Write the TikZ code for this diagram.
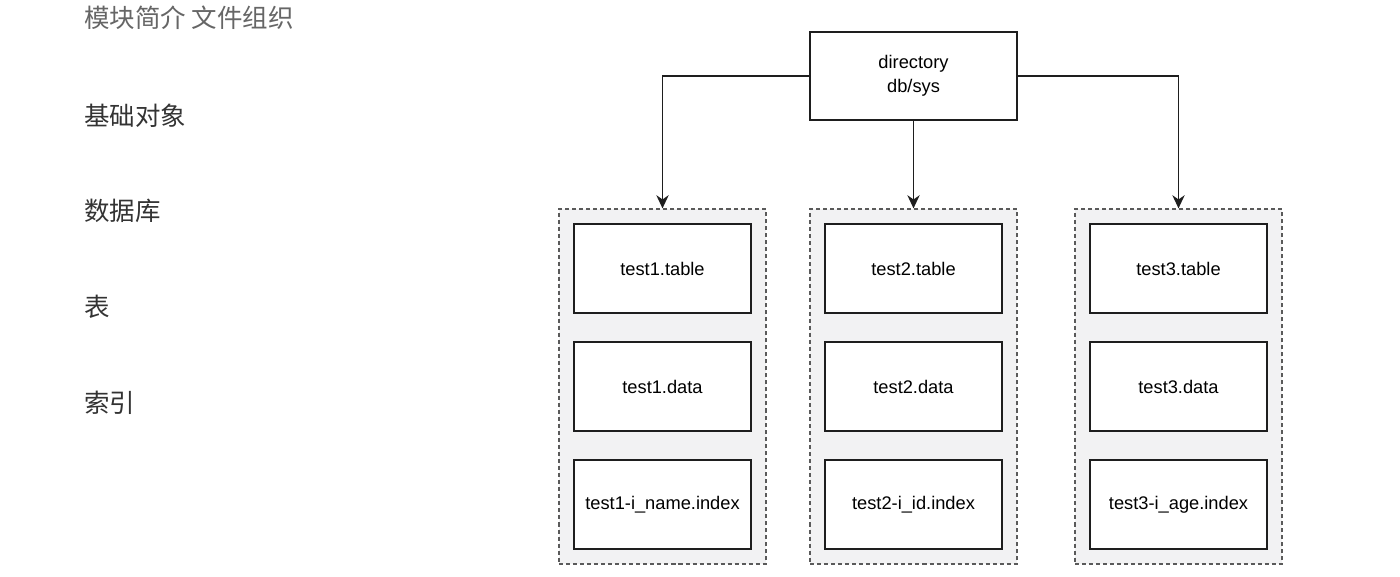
\documentclass[tikz,border=0pt]{standalone}
\usepackage{fontspec}
\setmainfont{Liberation Sans}
\newfontfamily\cjk{Noto Sans CJK SC}
\usetikzlibrary{arrows.meta}

\begin{document}
\begin{tikzpicture}[x=0.02cm, y=-0.02cm,
    every node/.style={font=\fontsize{10.4}{12.5}\selectfont},
    filebox/.style={draw=boxline, fill=white, line width=1pt,
        minimum width=3.54cm, minimum height=1.78cm, inner sep=0pt},
    groupbox/.style={draw=dashline, fill=groupfill, line width=0.75pt,
        dash pattern=on 2.3pt off 1.7pt,
        minimum width=4.14cm, minimum height=7.1cm, inner sep=0pt},
    menuitem/.style={anchor=west, text=menutext, inner sep=0pt,
        font=\cjk\fontsize{14.5}{17}\selectfont},
    link/.style={draw=boxline, line width=0.9pt, -{Stealth[length=7.5pt,width=7pt]}}]
    \definecolor{boxline}{RGB}{30,30,30}
    \definecolor{dashline}{RGB}{90,90,90}
    \definecolor{groupfill}{RGB}{242,242,243}
    \definecolor{menutext}{RGB}{51,51,51}
    \definecolor{menutitle}{RGB}{102,102,102}

    \useasboundingbox[fill=white] (0,0) rectangle (1400,576);

    % Menu on the left side of the slide.
    \node[menuitem, text=menutitle] (title) at (84,18) {模块简介 文件组织};
    \node[menuitem] (basic) at (84,116) {基础对象};
    \node[menuitem] (database) at (84,211) {数据库};
    \node[menuitem] (table) at (84,307) {表};
    \node[menuitem] (index) at (84,403) {索引};

    % Root directory.
    \node[filebox, minimum width=4.14cm, minimum height=1.76cm, align=center]
        (dir) at (913.5,76) {directory\\[1pt]db/sys};

    % Dashed groups, one per table.
    \node[groupbox] (grp1) at (662.5,386.5) {};
    \node[groupbox] (grp2) at (913.5,386.5) {};
    \node[groupbox] (grp3) at (1178.5,386.5) {};

    % Files inside each group.
    \node[filebox] (tbl1) at (662.5,268.5) {test1.table};
    \node[filebox] (dat1) at (662.5,386.5) {test1.data};
    \node[filebox] (idx1) at (662.5,504.5) {test1-i\_name.index};

    \node[filebox] (tbl2) at (913.5,268.5) {test2.table};
    \node[filebox] (dat2) at (913.5,386.5) {test2.data};
    \node[filebox] (idx2) at (913.5,504.5) {test2-i\_id.index};

    \node[filebox] (tbl3) at (1178.5,268.5) {test3.table};
    \node[filebox] (dat3) at (1178.5,386.5) {test3.data};
    \node[filebox] (idx3) at (1178.5,504.5) {test3-i\_age.index};

    % Connectors from the directory.
    \draw[link] (dir.west) -| (grp1.north);
    \draw[link] (dir.south) -- (grp2.north);
    \draw[link] (dir.east) -| (grp3.north);
\end{tikzpicture}
\end{document}
